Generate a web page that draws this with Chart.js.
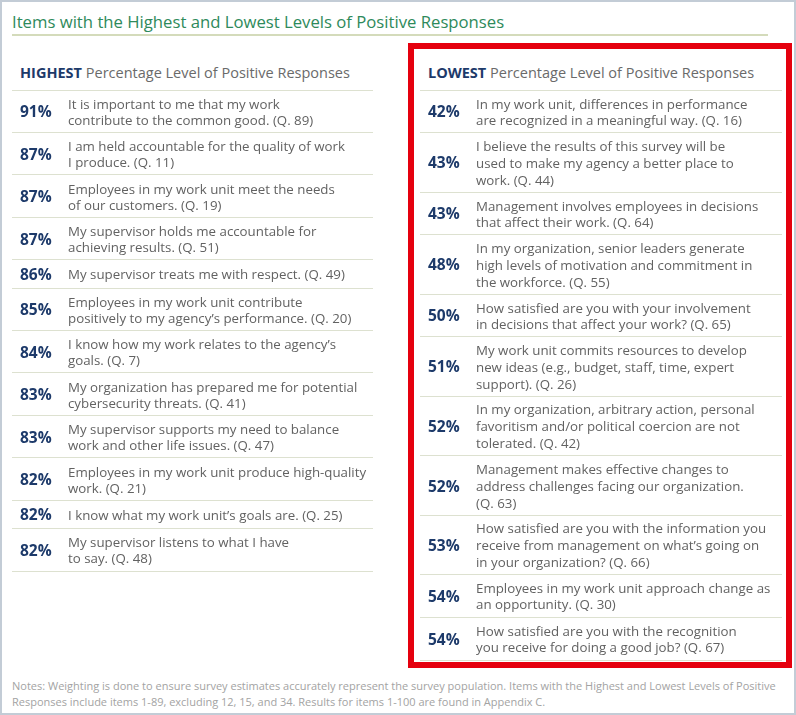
<!DOCTYPE html>
<html>
<head>
<meta charset="utf-8">
<script src="https://cdn.jsdelivr.net/npm/chart.js@4.4.1/dist/chart.umd.min.js"></script>
<style>
  html, body { margin: 0; padding: 0; background: #fff; }
  #page { position: relative; width: 796px; height: 715px; box-sizing: border-box;
          border: 2px solid #c3ccd6; font-family: "Open Sans", sans-serif; overflow: hidden; }
  #title { position: absolute; left: 10px; top: 8px; font-size: 16.7px; color: #2e8a5b; white-space: nowrap; }
  #rule { position: absolute; left: 10px; top: 32px; width: 756px; height: 2px; background: #d4dbbb; }
  .head { position: absolute; top: 61px; font-size: 14.5px; color: #6a6a6a; white-space: nowrap; }
  .head b { color: #1d3a6a; font-weight: 700; }
  #redbox { position: absolute; left: 406px; top: 41px; width: 384px; height: 625px;
            box-sizing: border-box; border: 6px solid #e5000e; }
  canvas { position: absolute; }
  #notes { position: absolute; left: 10px; top: 676px; font-size: 11px; line-height: 16px; color: #a3a3a3; white-space: nowrap; }
</style>
</head>
<body>
<div id="page">
  <div id="title">Items with the Highest and Lowest Levels of Positive Responses</div>
  <div id="rule"></div>
  <div id="redbox"></div>
  <div class="head" style="left:18px"><b>HIGHEST</b> Percentage Level of Positive Responses</div>
  <div class="head" style="left:426px"><b>LOWEST</b> Percentage Level of Positive Responses</div>
  <canvas id="high"></canvas>
  <canvas id="low"></canvas>
  <div id="notes">Notes: Weighting is done to ensure survey estimates accurately represent the survey population. Items with the Highest and Lowest Levels of Positive<br>Responses include items 1-89, excluding 12, 15, and 34. Results for items 1-100 are found in Appendix C.</div>
</div>
<script>
// highest items
const highPct = [91, 87, 87, 87, 86, 85, 84, 83, 83, 82, 82, 82];
const highItems = [
  ['It is important to me that my work', 'contribute to the common good. (Q. 89)'],
  ['I am held accountable for the quality of work', 'I produce. (Q. 11)'],
  ['Employees in my work unit meet the needs', 'of our customers. (Q. 19)'],
  ['My supervisor holds me accountable for', 'achieving results. (Q. 51)'],
  ['My supervisor treats me with respect. (Q. 49)'],
  ['Employees in my work unit contribute', 'positively to my agency\u2019s performance. (Q. 20)'],
  ['I know how my work relates to the agency\u2019s', 'goals. (Q. 7)'],
  ['My organization has prepared me for potential', 'cybersecurity threats. (Q. 41)'],
  ['My supervisor supports my need to balance', 'work and other life issues. (Q. 47)'],
  ['Employees in my work unit produce high-quality', 'work. (Q. 21)'],
  ['I know what my work unit\u2019s goals are. (Q. 25)'],
  ['My supervisor listens to what I have', 'to say. (Q. 48)']
];

// lowest items
const lowPct = [42, 43, 43, 48, 50, 51, 52, 52, 53, 54, 54];
const lowItems = [
  ['In my work unit, differences in performance', 'are recognized in a meaningful way. (Q. 16)'],
  ['I believe the results of this survey will be', 'used to make my agency a better place to', 'work. (Q. 44)'],
  ['Management involves employees in decisions', 'that affect their work. (Q. 64)'],
  ['In my organization, senior leaders generate', 'high levels of motivation and commitment in', 'the workforce. (Q. 55)'],
  ['How satisfied are you with your involvement', 'in decisions that affect your work? (Q. 65)'],
  ['My work unit commits resources to develop', 'new ideas (e.g., budget, staff, time, expert', 'support). (Q. 26)'],
  ['In my organization, arbitrary action, personal', 'favoritism and/or political coercion are not', 'tolerated. (Q. 42)'],
  ['Management makes effective changes to', 'address challenges facing our organization.', '(Q. 63)'],
  ['How satisfied are you with the information you', 'receive from management on what\u2019s going on', 'in your organization? (Q. 66)'],
  ['Employees in my work unit approach change as', 'an opportunity. (Q. 30)'],
  ['How satisfied are you with the recognition', 'you receive for doing a good job? (Q. 67)']
];

const LINE_PX = 17;
const BORDER = 2; // page frame, absolute children start inside it

// row height in "line" units, taken from how many lines the item wraps to
function rowSize(lines) {
  return lines === 1 ? 1.65 : lines + 0.5;
}

function layoutRows(items) {
  const bounds = [0];
  const centers = [];
  items.forEach((lines) => {
    const start = bounds[bounds.length - 1];
    const end = start + rowSize(lines.length);
    centers.push((start + end) / 2);
    bounds.push(end);
  });
  return { bounds, centers };
}

const cellText = {
  id: 'cellText',
  afterDatasetsDraw(chart) {
    const { ctx, chartArea } = chart;
    const meta = chart.getDatasetMeta(0);
    const pct = chart.options.plugins.cellText.pct;
    const items = chart.options.plugins.cellText.items;
    ctx.save();
    ctx.textBaseline = 'middle';
    ctx.textAlign = 'left';
    meta.data.forEach((pt, i) => {
      const y = pt.y + 1.5;
      ctx.font = 'bold 15.5px "Open Sans"';
      ctx.fillStyle = '#1d3a6a';
      ctx.fillText(pct[i] + '%', chartArea.left + 8, y);
      ctx.font = '13.3px "Open Sans"';
      ctx.fillStyle = '#626262';
      const lines = items[i];
      const lh = lines.length === 3 ? 17 : 16;
      lines.forEach((line, k) => {
        ctx.fillText(line, chartArea.left + 56, y + (k - (lines.length - 1) / 2) * lh);
      });
    });
    ctx.restore();
  }
};

function makeTable(id, left, top, width, pct, items) {
  const { bounds, centers } = layoutRows(items);
  const total = bounds[bounds.length - 1];
  const pad = 1;
  const canvas = document.getElementById(id);
  canvas.width = width;
  canvas.height = Math.round(total * LINE_PX) + pad * 2 + 1;
  canvas.style.left = (left - BORDER) + 'px';
  canvas.style.top = (top - pad - BORDER) + 'px';
  canvas.style.width = width + 'px';
  canvas.style.height = canvas.height + 'px';

  return new Chart(canvas.getContext('2d'), {
    type: 'scatter',
    data: {
      datasets: [{
        data: centers.map((c) => ({ x: 0, y: c })),
        pointRadius: 0,
        pointHoverRadius: 0
      }]
    },
    options: {
      responsive: false,
      animation: false,
      events: [],
      layout: { padding: { top: pad, bottom: pad + 1, left: 0, right: 0 } },
      scales: {
        x: { display: false, min: 0, max: 1 },
        y: {
          reverse: true,
          min: 0,
          max: total,
          afterBuildTicks: (scale) => {
            scale.ticks = bounds.map((v) => ({ value: v }));
          },
          ticks: { display: false },
          border: { display: false },
          grid: { color: '#dde1d0', lineWidth: 1, drawTicks: false }
        }
      },
      plugins: {
        legend: { display: false },
        tooltip: { enabled: false },
        cellText: { pct, items }
      }
    },
    plugins: [cellText]
  });
}

document.fonts.load('13px "Open Sans"').then(() => document.fonts.load('bold 15px "Open Sans"')).finally(() => {
  makeTable('high', 12, 90, 361, highPct, highItems);
  makeTable('low', 420, 90, 362, lowPct, lowItems);
});
</script>
</body>
</html>
